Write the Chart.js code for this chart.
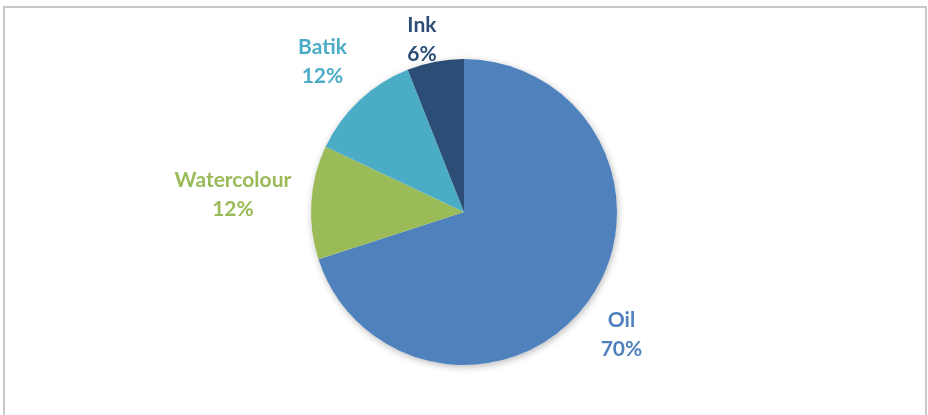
<!DOCTYPE html>
<html>
<head>
<meta charset="utf-8">
<script src="https://cdn.jsdelivr.net/npm/chart.js@4"></script>
<style>
  html, body { margin: 0; padding: 0; background: #fff; }
  #wrap { position: relative; width: 928px; height: 415px; overflow: hidden; }
  #frame {
    position: absolute; left: 3px; top: 6px; width: 924px; height: 420px;
    box-sizing: border-box; border: 2px solid #c8c8c8;
  }
  canvas { position: absolute; left: 0; top: 0; }
</style>
</head>
<body>
<div id="wrap">
  <div id="frame"></div>
  <canvas id="myChart" width="928" height="415"></canvas>
</div>
<script>
// Chart data
const categories = ["Oil", "Watercolour", "Batik", "Ink"];
const shares = [70, 12, 12, 6];
const sliceColors = ["#4F81BD", "#9BBB59", "#4BACC6", "#2C4D75"];

const ctx = document.getElementById("myChart");

// soft shadow behind the pie
const pieShadow = {
  id: "pieShadow",
  beforeDatasetsDraw: (chart) => {
    const arc = chart.getDatasetMeta(0).data[0];
    if (!arc) return;
    const c = chart.ctx;
    c.save();
    c.beginPath();
    c.arc(arc.x, arc.y, arc.outerRadius, 0, Math.PI * 2);
    c.shadowColor = "rgba(0,0,0,0.28)";
    c.shadowBlur = 7;
    c.shadowOffsetX = 1;
    c.shadowOffsetY = 2;
    c.fillStyle = "#ffffff";
    c.fill();
    c.restore();
  },
};

// category + percent labels outside the slices
const outsideLabels = {
  id: "outsideLabels",
  afterDatasetsDraw: (chart, args, opts) => {
    const meta = chart.getDatasetMeta(0);
    const c = chart.ctx;
    c.save();
    c.font = "bold 21px Lato";
    c.textAlign = "center";
    c.textBaseline = "alphabetic";
    meta.data.forEach((arc, i) => {
      const off = opts.offsets[i];
      const x = arc.x + off[0] * arc.outerRadius;
      const y = arc.y + off[1] * arc.outerRadius;
      c.fillStyle = sliceColors[i];
      c.fillText(categories[i], x, y - 7);
      c.fillText(shares[i] + "%", x, y + 22);
    });
    c.restore();
  },
};

const config = {
  type: "pie",
  data: {
    labels: categories,
    datasets: [
      {
        data: shares,
        backgroundColor: sliceColors,
        borderWidth: 0,
      },
    ],
  },
  options: {
    responsive: false,
    animation: false,
    layout: { padding: { top: 59, bottom: 50, left: 0, right: 0 } },
    plugins: {
      legend: { display: false },
      tooltip: { enabled: false },
      // label centres, in units of the pie radius from its centre
      outsideLabels: {
        offsets: [
          [1.029, 0.795],
          [-1.51, -0.12],
          [-0.925, -0.99],
          [-0.275, -1.131],
        ],
      },
    },
  },
  plugins: [pieShadow, outsideLabels],
};

new Chart(ctx, config);
</script>
</body>
</html>
